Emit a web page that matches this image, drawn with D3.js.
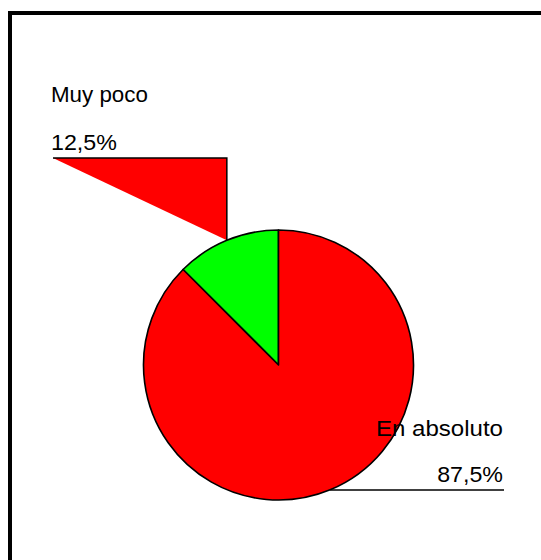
<!DOCTYPE html>
<html>
<head>
<meta charset="utf-8">
<script src="https://cdn.jsdelivr.net/npm/d3@7"></script>
<style>
html,body{margin:0;padding:0;background:#fff;}
svg{display:block;}
</style>
</head>
<body>
<script>
const categories = ["Muy poco", "En absoluto"];
const values = [12.5, 87.5];
const valueLabels = ["12,5%", "87,5%"];
const colors = ["#00ff00", "#ff0000"];

const W = 541, H = 560;
const svg = d3.select("body").append("svg").attr("width", W).attr("height", H);

// frame (extends past right/bottom edges)
svg.append("rect").attr("x", 10).attr("y", 13).attr("width", 600).attr("height", 600)
  .attr("fill", "#fff").attr("stroke", "#000").attr("stroke-width", 4);

const cx = 278.5, cy = 365, r = 135;
const g = svg.append("g").attr("transform", `translate(${cx},${cy})`);

const pie = d3.pie().sort(null).startAngle(-Math.PI / 4).endAngle(2 * Math.PI - Math.PI / 4).value(d => d);
const arcs = pie(values);
const arc = d3.arc().innerRadius(0).outerRadius(r);

function edgePoint(a) {
  const m = (a.startAngle + a.endAngle) / 2;
  return [cx + r * Math.sin(m), cy - r * Math.cos(m)];
}

// Leader for the small slice (filled polyline, as in the original)
const p0 = edgePoint(arcs[0]);
const lead0 = [[53, 158], [p0[0], 158], p0];
svg.insert("path", "g")
  .attr("d", d3.line()(lead0))
  .attr("fill", "#ff0000").attr("stroke", "#000").attr("stroke-width", 1.5);

g.selectAll("path.slice").data(arcs).join("path")
  .attr("class", "slice")
  .attr("d", arc)
  .attr("fill", (d, i) => colors[i])
  .attr("stroke", "#000").attr("stroke-width", 1.6).attr("stroke-linejoin", "round");

const p1 = edgePoint(arcs[1]);
svg.append("line").attr("x1", p1[0]).attr("y1", 490).attr("x2", 504).attr("y2", 490)
  .attr("stroke", "#000").attr("stroke-width", 1.3);

const font = "'Liberation Sans', Arial, sans-serif";
function label(x, y, txt, anchor, sx) {
  svg.append("text")
    .attr("transform", `translate(${x},${y}) scale(${sx},1)`)
    .attr("text-anchor", anchor)
    .attr("font-family", font).attr("font-size", 21.5).attr("fill", "#000").text(txt);
}
label(51, 102, categories[0], "start", 1.04);
label(51, 150, valueLabels[0], "start", 1.08);
label(503, 436, categories[1], "end", 1.12);
label(503, 482, valueLabels[1], "end", 1.08);
</script>
</body>
</html>
